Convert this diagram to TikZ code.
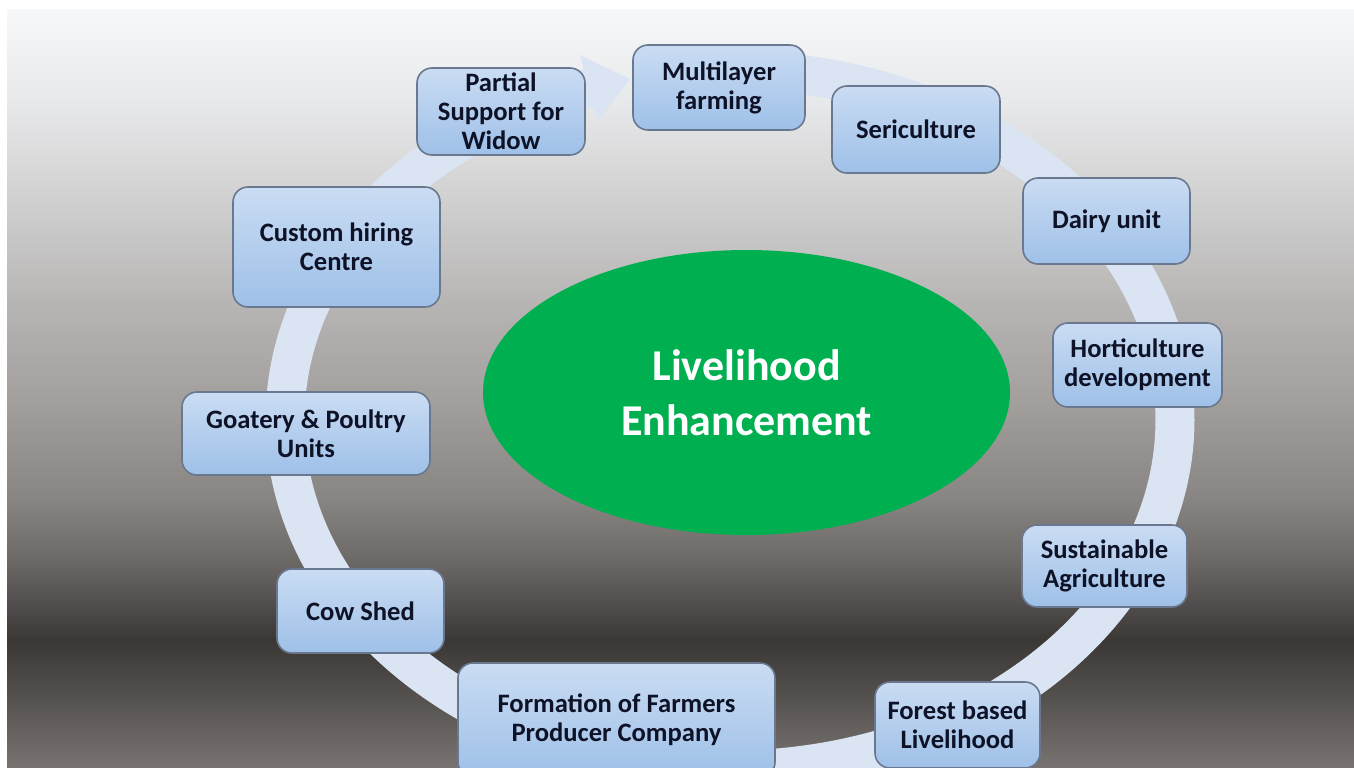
\documentclass[tikz,border=0pt]{standalone}
\usepackage{fontspec}
\setmainfont{Carlito}
\usetikzlibrary{shapes.geometric}
\definecolor{bgA}{RGB}{247,248,250}
\definecolor{bgB}{RGB}{232,233,235}
\definecolor{bgC}{RGB}{208,208,208}
\definecolor{bgD}{RGB}{184,182,181}
\definecolor{bgE}{RGB}{162,159,157}
\definecolor{bgF}{RGB}{136,132,130}
\definecolor{bgG}{RGB}{108,104,102}
\definecolor{bgH}{RGB}{84,80,79}
\definecolor{bgI}{RGB}{58,55,53}
\definecolor{bgJ}{RGB}{86,82,80}
\definecolor{bgK}{RGB}{120,115,113}
\definecolor{ringcol}{RGB}{218,228,242}
\definecolor{boxtop}{RGB}{202,220,243}
\definecolor{boxbot}{RGB}{158,192,232}
\definecolor{boxline}{RGB}{105,120,142}
\definecolor{boxtext}{RGB}{14,18,38}
\definecolor{hubgreen}{RGB}{0,176,80}
\pgfdeclareverticalshading{bgshade}{100bp}{color(0bp)=(bgK); color(25bp)=(bgK); color(29.4bp)=(bgJ); color(33.4bp)=(bgI); color(36bp)=(bgH); color(38.65bp)=(bgG); color(42.6bp)=(bgF); color(49.2bp)=(bgE); color(55.8bp)=(bgD); color(62.4bp)=(bgC); color(69bp)=(bgB); color(75bp)=(bgA); color(100bp)=(bgA)}
\tikzset{
  cbox/.style={rounded corners=7.5pt, draw=boxline, line width=0.8pt, top color=boxtop, bottom color=boxbot,
    font=\bfseries\fontsize{13.3}{14.5}\selectfont, text=boxtext, align=center, inner sep=0pt},
  hub/.style={ellipse, fill=hubgreen, draw=none, text=white, align=center, inner sep=0pt,
    font=\bfseries\fontsize{22}{27.5}\selectfont},
  ringline/.style={draw=ringcol, line width=19.5pt, line cap=butt},
}
\begin{document}
\begin{tikzpicture}[x=0.5pt,y=-0.5pt]
\useasboundingbox (0,0) rectangle (1354,767);
\clip (0,0) rectangle (1354,767);
\fill[white] (0,0) rectangle (1354,767);
\shade[shading=bgshade] (7,9) rectangle (1354,767);
% circular arrow
\draw[ringline] plot[domain=-251.5:92, samples=240, smooth] ({730+445*cos(\x)}, {420-350*sin(\x)});
\coordinate (headA) at (580.1,55.2);
\coordinate (headTip) at (629.9,79.0);
\coordinate (headB) at (597.5,121.0);
\fill[ringcol] (headA) -- (headTip) -- (headB) -- cycle;
% hub
\node[hub, minimum width=263.5pt, minimum height=142.5pt] (hub) at (746.5,392.5) {Livelihood\\Enhancement};
% boxes
\node[cbox, minimum width=84pt, minimum height=43.5pt] (partial) at (501,111.5) {Partial\\Support for\\Widow};
\node[cbox, minimum width=86pt, minimum height=42.5pt] (multi) at (719,87.5) {Multilayer\\farming};
\node[cbox, minimum width=84pt, minimum height=43.5pt] (seri) at (916,129.5) {Sericulture};
\node[cbox, minimum width=83.5pt, minimum height=43pt] (dairy) at (1106.5,221) {Dairy unit};
\node[cbox, minimum width=84.5pt, minimum height=42pt] (horti) at (1137.5,365) {Horticulture\\development};
\node[cbox, minimum width=82.5pt, minimum height=41pt] (sustain) at (1104.5,566) {Sustainable\\Agriculture};
\node[cbox, minimum width=82.5pt, minimum height=43pt] (forest) at (957.5,725) {Forest based\\Livelihood};
\node[cbox, minimum width=158.5pt, minimum height=57pt] (fpc) at (616.5,720) {Formation of Farmers\\Producer Company};
\node[cbox, minimum width=83.5pt, minimum height=42pt] (cow) at (360.5,611) {Cow Shed};
\node[cbox, minimum width=124pt, minimum height=41.5pt] (goat) at (306,433.5) {Goatery \& Poultry\\Units};
\node[cbox, minimum width=103.5pt, minimum height=60pt] (custom) at (336.5,247) {Custom hiring\\Centre};
\end{tikzpicture}
\end{document}
